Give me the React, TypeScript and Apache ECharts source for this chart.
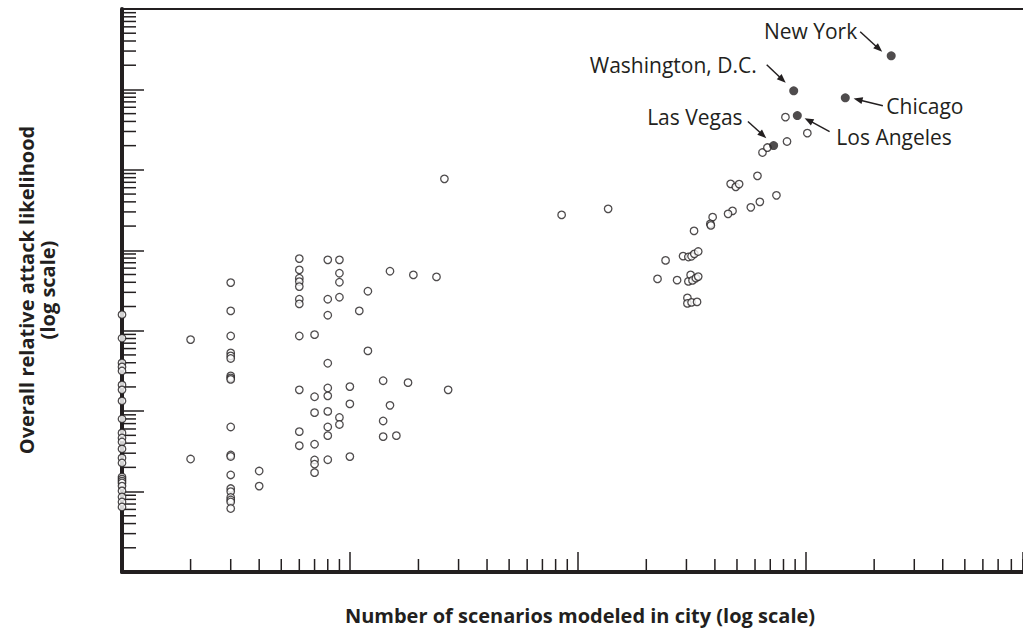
import React, { useEffect, useRef } from "react";
import * as echarts from "echarts";

const INK = "#231f20";
const FONT = '"Open Sans", "Noto Sans", sans-serif';

const xAxisMin = 1;
const xAxisMax = 9000;
const yAxisMin = 1;
const yAxisMax = 1e7;

const tickMultipliers = [2, 3, 4, 5, 6, 7, 8, 9];
const xDecades = [1, 10, 100, 1000];
const yDecades = [1, 10, 100, 1000, 10000, 100000, 1000000];

const xTitle = "Number of scenarios modeled in city (log scale)";
const yTitle = "Overall relative attack likelihood\n(log scale)";

// cities with few scenarios (1 to 10)
const fewScenarioCities: [number, number][] = [
  [1, 1585], [1, 807], [1, 398], [1, 355], [1, 316], [1, 212], [1, 184], [1, 134], [1, 80],
  [1, 53.6], [1, 46.4], [1, 41.4], [1, 33.9], [1, 26.2], [1, 22.7], [1, 15.2], [1, 14.3],
  [1, 13.5], [1, 12.8], [1, 11.7], [1, 10.2], [1, 8.57], [1, 7.42], [1, 6.43],
  [2, 775], [2, 25.4],
  [3, 3966], [3, 1763], [3, 861], [3, 530], [3, 486], [3, 452], [3, 274], [3, 259], [3, 248],
  [3, 63.6], [3, 28.5], [3, 27.3], [3, 16.1], [3, 10.9], [3, 10], [3, 8.45], [3, 7.86], [3, 7.42], [3, 6.16],
  [4, 18], [4, 11.7],
  [6, 7888], [6, 5705], [6, 4498], [6, 4083], [6, 3537], [6, 2465], [6, 2154], [6, 861], [6, 184], [6, 55.6], [6, 37.2],
  [7, 894], [7, 151], [7, 95.8], [7, 38.8], [7, 24.7], [7, 21.9], [7, 17.2],
  [8, 7600], [8, 2465], [8, 1559], [8, 394], [8, 194], [8, 155], [8, 99.2], [8, 63.6], [8, 49.6], [8, 24.9],
  [9, 7600], [9, 5190], [9, 4010], [9, 2610], [9, 83.5], [9, 68.3],
  [10, 202], [10, 123], [10, 27.2],
];

// cities with 11 to 30 scenarios
const midScenarioCities: [number, number][] = [
  [11, 1763], [12, 3099], [12, 561], [14, 239], [14, 75.5], [14, 48.2], [15, 5495], [15, 118],
  [16, 49.6], [18, 226], [19, 4943], [24, 4668], [26, 77270], [27, 184],
];

// cities with many scenarios
const manyScenarioCities: [number, number][] = [
  [85, 27540], [136, 32730],
  [615, 84200], [469, 67000], [494, 61500], [511, 66500], [745, 48200], [630, 40000], [575, 34200],
  [478, 30900], [457, 28380], [391, 25820], [382, 21290], [384, 20400], [324, 17420],
  [243, 7490], [290, 8450], [306, 8250], [316, 8420], [325, 9020], [338, 9650],
  [224, 4408], [273, 4250], [306, 4100], [313, 4943], [319, 4220], [330, 4500], [338, 4710],
  [303, 2558], [303, 2186], [316, 2250], [334, 2280],
  [647, 164100], [680, 189300], [829, 224900], [816, 452000], [1018, 286000],
];

// highlighted cities
const cityNames = ["New York", "Washington, D.C.", "Chicago", "Los Angeles", "Las Vegas"];
const cityScenarios = [2376, 887, 1494, 920, 724];
const cityLikelihood = [2618000, 961000, 786600, 473500, 200500];

// callout layout (pixel offsets from the point)
const callouts = [
  { text: [-34, -25], align: "right", from: [-31, -24], to: [-9, -4] },
  { text: [-37, -26], align: "right", from: [-27, -26], to: [-8, -8] },
  { text: [41, 8], align: "left", from: [37.6, 8], to: [8.3, 0.7] },
  { text: [39, 21], align: "left", from: [32.3, 16], to: [7.3, 2.6] },
  { text: [-31, -29], align: "right", from: [-25.7, -24], to: [-7.3, -7.4] },
];

const xMinorTicks = xDecades.flatMap((d) => tickMultipliers.map((m) => m * d));
const yMinorTicks = yDecades.flatMap((d) => tickMultipliers.map((m) => m * d));

export default function App() {
  const ref = useRef<HTMLDivElement>(null);

  useEffect(() => {
    if (!ref.current) return;
    const chart = echarts.init(ref.current, undefined, { renderer: "svg" });

    const openStyle = { color: "#ffffff", borderColor: INK, borderWidth: 1.3 };

    chart.setOption({
      animation: false,
      backgroundColor: "#ffffff",
      grid: {
        left: 122,
        right: 0,
        top: 9,
        bottom: 59,
      },
      xAxis: [
        {
          type: "log",
          logBase: 10,
          min: xAxisMin,
          max: xAxisMax,
          position: "bottom",
          z: 0,
          axisLine: { show: true, lineStyle: { color: INK, width: 4 } },
          axisTick: { show: true, inside: true, length: 20, lineStyle: { color: INK, width: 1.5 } },
          axisLabel: { show: false },
          splitLine: { show: false },
        },
        {
          type: "log",
          logBase: 10,
          min: xAxisMin,
          max: xAxisMax,
          position: "top",
          z: 0,
          axisLine: { show: true, lineStyle: { color: INK, width: 2 } },
          axisTick: { show: false },
          axisLabel: { show: false },
          splitLine: { show: false },
        },
      ],
      yAxis: {
        type: "log",
        logBase: 10,
        min: yAxisMin,
        max: yAxisMax,
        z: 0,
        axisLine: { show: true, lineStyle: { color: INK, width: 4 } },
        axisTick: { show: true, inside: true, length: 22, lineStyle: { color: INK, width: 1.5 } },
        axisLabel: { show: false },
        splitLine: { show: false },
      },
      series: [
        {
          type: "custom",
          coordinateSystem: "cartesian2d",
          silent: true,
          clip: false,
          z: 1,
          data: xMinorTicks.map((v) => [v, yAxisMin]),
          renderItem: (_p: any, api: any) => {
            const p = api.coord([api.value(0), api.value(1)]);
            return {
              type: "line",
              shape: { x1: p[0], y1: p[1], x2: p[0], y2: p[1] - 13 },
              style: { stroke: INK, lineWidth: 1.5 },
            };
          },
        },
        {
          type: "custom",
          coordinateSystem: "cartesian2d",
          silent: true,
          clip: false,
          z: 1,
          data: yMinorTicks.map((v) => [xAxisMin, v]),
          renderItem: (_p: any, api: any) => {
            const p = api.coord([api.value(0), api.value(1)]);
            return {
              type: "line",
              shape: { x1: p[0], y1: p[1], x2: p[0] + 14, y2: p[1] },
              style: { stroke: INK, lineWidth: 1.5 },
            };
          },
        },
        {
          type: "scatter",
          symbol: "circle",
          symbolSize: 7.5,
          z: 5,
          itemStyle: openStyle,
          data: [...fewScenarioCities, ...midScenarioCities, ...manyScenarioCities],
        },
        {
          type: "scatter",
          symbol: "circle",
          symbolSize: 9,
          z: 6,
          itemStyle: { color: INK },
          data: cityNames.map((n, i) => ({ name: n, value: [cityScenarios[i], cityLikelihood[i]] })),
        },
      ],
    });

    const graphics: any[] = [
      {
        type: "text",
        x: 37,
        y: 290,
        rotation: Math.PI / 2,
        style: {
          text: yTitle,
          font: `bold 20px ${FONT}`,
          fill: INK,
          align: "center",
          verticalAlign: "middle",
          lineHeight: 21,
        },
      },
      {
        type: "text",
        x: 580,
        y: 615,
        style: {
          text: xTitle,
          font: `bold 20px ${FONT}`,
          fill: INK,
          align: "center",
          verticalAlign: "middle",
        },
      },
    ];

    cityNames.forEach((name, i) => {
      const p = chart.convertToPixel({ gridIndex: 0 }, [cityScenarios[i], cityLikelihood[i]]) as number[];
      const c = callouts[i];
      graphics.push({
        type: "text",
        x: p[0] + c.text[0],
        y: p[1] + c.text[1],
        style: {
          text: name,
          font: `21px ${FONT}`,
          fill: INK,
          align: c.align,
          verticalAlign: "middle",
        },
      });
      const fx = p[0] + c.from[0];
      const fy = p[1] + c.from[1];
      const tx = p[0] + c.to[0];
      const ty = p[1] + c.to[1];
      const dx = tx - fx;
      const dy = ty - fy;
      const len = Math.sqrt(dx * dx + dy * dy);
      const ux = dx / len;
      const uy = dy / len;
      const headLen = 9;
      const headHalf = 3.5;
      const bx = tx - ux * headLen;
      const by = ty - uy * headLen;
      graphics.push({
        type: "line",
        shape: { x1: fx, y1: fy, x2: bx + ux * 1, y2: by + uy * 1 },
        style: { stroke: INK, lineWidth: 1.5 },
      });
      graphics.push({
        type: "polygon",
        shape: {
          points: [
            [tx, ty],
            [bx - uy * headHalf, by + ux * headHalf],
            [bx + uy * headHalf, by - ux * headHalf],
          ],
        },
        style: { fill: INK },
      });
    });

    chart.setOption({ graphic: graphics });

    return () => chart.dispose();
  }, []);

  return (
    <div
      ref={ref}
      style={{ position: "absolute", left: 0, top: 0, width: 1023, height: 631, background: "#fff" }}
    />
  );
}
